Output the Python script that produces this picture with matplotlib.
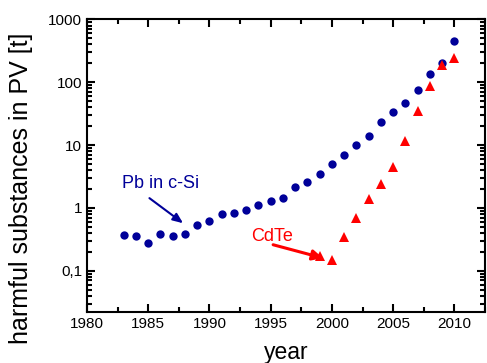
import matplotlib.pyplot as plt
from matplotlib.ticker import FixedLocator, LogLocator, NullFormatter

plt.rcParams['font.family'] = ['Liberation Sans', 'DejaVu Sans']

# Pb in c-Si
pb_years = list(range(1983, 2011))
pb_values = [0.37, 0.36, 0.28, 0.38, 0.36, 0.39, 0.54, 0.63, 0.80, 0.82,
             0.91, 1.12, 1.3, 1.46, 2.15, 2.6, 3.45, 5.0, 7.0, 10.1,
             13.8, 23, 34, 46, 75, 136, 200, 450]

# CdTe
cdte_years = list(range(1999, 2011))
cdte_values = [0.17, 0.15, 0.35, 0.68, 1.4, 2.4, 4.4, 11.7, 35, 87, 190, 245]

y_ticks = [0.1, 1, 10, 100, 1000]
y_labels = ['0,1', '1', '10', '100', '1000']
x_ticks = [1980, 1985, 1990, 1995, 2000, 2005, 2010]

blue = '#000099'
red = '#ff0000'

fig = plt.figure(figsize=(4.87, 3.63), dpi=100)
ax = fig.add_axes([0.1786, 0.1405, 0.8173, 0.8058])

ax.plot(pb_years, pb_values, 'o', color=blue, markersize=6, markeredgewidth=0)
ax.plot(cdte_years, cdte_values, '^', color=red, markersize=7.5, markeredgewidth=0)

ax.set_yscale('log')
ax.set_xlim(1980, 2012.5)
ax.set_ylim(0.022, 1000)

ax.set_xticks(x_ticks)
ax.xaxis.set_minor_locator(FixedLocator([1982.5 + 5 * i for i in range(7)]))
ax.yaxis.set_major_locator(FixedLocator(y_ticks))
ax.set_yticklabels(y_labels)
ax.yaxis.set_minor_locator(LogLocator(base=10, subs=range(2, 10)))
ax.yaxis.set_minor_formatter(NullFormatter())

ax.tick_params(which='both', direction='in', top=True, right=True, width=1.5,
               labelsize=11)
ax.tick_params(which='major', length=6)
ax.tick_params(which='minor', length=3.5)
for s in ax.spines.values():
    s.set_linewidth(1.5)

ax.set_xlabel('year', fontsize=16.5, labelpad=7)
ax.set_ylabel('harmful substances in PV [t]', fontsize=18)
ax.yaxis.set_label_coords(-0.135, 0.424)

ax.annotate('', xy=(1987.85, 0.57), xytext=(1985.1, 1.43),
            arrowprops=dict(arrowstyle='-|>,head_length=0.6,head_width=0.25',
                            color=blue, lw=1.5, shrinkA=0, shrinkB=0))
ax.text(1982.9, 2.06, 'Pb in c-Si', color=blue, fontsize=13, va='baseline')

ax.annotate('', xy=(1999.26, 0.159), xytext=(1995.2, 0.259),
            arrowprops=dict(arrowstyle='-|>,head_length=0.6,head_width=0.3',
                            color=red, lw=2.2, shrinkA=0, shrinkB=0))
ax.text(1993.4, 0.292, 'CdTe', color=red, fontsize=13, va='baseline')

fig.savefig('out.png', dpi=100)
